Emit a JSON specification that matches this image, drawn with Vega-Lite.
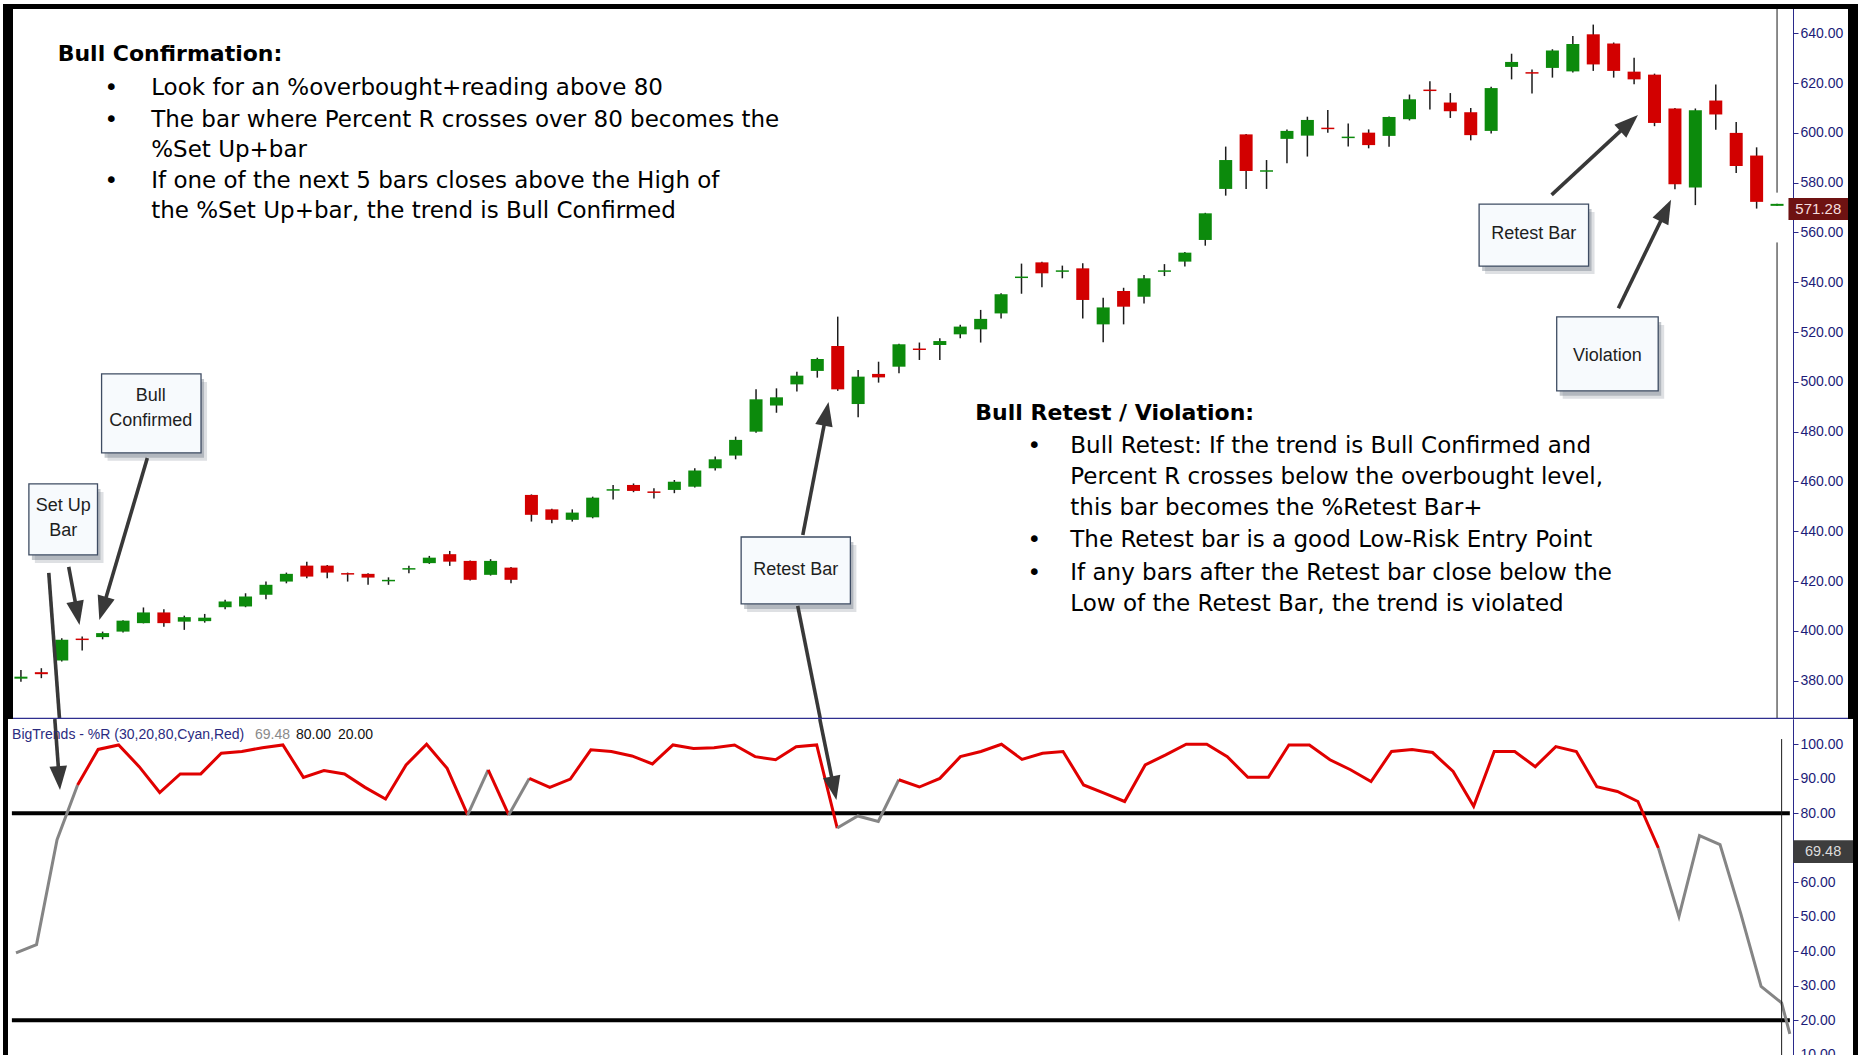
{
  "$schema": "https://vega.github.io/schema/vega-lite/v6.json",
  "background": "white",
  "padding": {"left": 3, "top": 4, "right": 0, "bottom": 0},
  "spacing": 0,
  "config": {"view": {"stroke": null}, "axis": {"grid": false}},
  "datasets": {
    "candles": [
      {"i":0,"o":380.8,"h":384.3,"l":379.6,"c":381.6},
      {"i":1,"o":383.4,"h":385.0,"l":381.0,"c":382.6},
      {"i":2,"o":388.1,"h":397.0,"l":387.7,"c":396.4},
      {"i":3,"o":396.9,"h":397.7,"l":392.1,"c":396.3},
      {"i":4,"o":397.5,"h":399.7,"l":396.6,"c":399.1},
      {"i":5,"o":399.7,"h":404.3,"l":399.3,"c":404.1},
      {"i":6,"o":403.1,"h":409.4,"l":403.0,"c":407.4},
      {"i":7,"o":407.4,"h":408.7,"l":401.7,"c":403.1},
      {"i":8,"o":403.7,"h":406.1,"l":400.4,"c":405.5},
      {"i":9,"o":403.9,"h":406.8,"l":403.3,"c":405.3},
      {"i":10,"o":409.5,"h":412.5,"l":408.7,"c":411.8},
      {"i":11,"o":409.8,"h":415.1,"l":409.5,"c":413.8},
      {"i":12,"o":414.5,"h":419.8,"l":412.7,"c":418.5},
      {"i":13,"o":419.8,"h":423.4,"l":419.1,"c":422.9},
      {"i":14,"o":426.2,"h":427.8,"l":421.1,"c":421.8},
      {"i":15,"o":426.2,"h":426.5,"l":421.1,"c":423.4},
      {"i":16,"o":423.2,"h":423.4,"l":419.8,"c":422.6},
      {"i":17,"o":422.9,"h":423.1,"l":418.5,"c":421.4},
      {"i":18,"o":419.9,"h":421.5,"l":418.5,"c":420.5},
      {"i":19,"o":424.6,"h":426.2,"l":423.1,"c":425.2},
      {"i":20,"o":427.2,"h":430.1,"l":426.9,"c":429.4},
      {"i":21,"o":430.8,"h":432.1,"l":426.1,"c":427.8},
      {"i":22,"o":428.1,"h":428.3,"l":420.2,"c":420.5},
      {"i":23,"o":422.5,"h":428.8,"l":422.2,"c":428.1},
      {"i":24,"o":425.4,"h":425.6,"l":419.1,"c":420.5},
      {"i":25,"o":454.6,"h":454.8,"l":443.9,"c":446.6},
      {"i":26,"o":448.8,"h":449.0,"l":443.2,"c":444.6},
      {"i":27,"o":444.6,"h":448.8,"l":443.9,"c":447.5},
      {"i":28,"o":445.6,"h":453.9,"l":445.2,"c":453.5},
      {"i":29,"o":456.3,"h":458.6,"l":452.8,"c":456.9},
      {"i":30,"o":458.6,"h":459.2,"l":455.7,"c":456.2},
      {"i":31,"o":456.0,"h":457.3,"l":453.2,"c":455.4},
      {"i":32,"o":456.6,"h":460.6,"l":455.3,"c":459.9},
      {"i":33,"o":457.9,"h":465.3,"l":457.6,"c":464.4},
      {"i":34,"o":465.3,"h":470.0,"l":464.4,"c":468.9},
      {"i":35,"o":470.4,"h":478.0,"l":468.9,"c":476.7},
      {"i":36,"o":480.0,"h":497.0,"l":479.6,"c":493.0},
      {"i":37,"o":490.5,"h":497.4,"l":487.6,"c":493.8},
      {"i":38,"o":499.0,"h":504.1,"l":496.1,"c":502.5},
      {"i":39,"o":504.4,"h":509.7,"l":501.7,"c":509.2},
      {"i":40,"o":514.4,"h":526.2,"l":496.4,"c":497.0},
      {"i":41,"o":491.1,"h":504.8,"l":485.8,"c":502.1},
      {"i":42,"o":503.2,"h":508.1,"l":499.7,"c":501.8},
      {"i":43,"o":506.1,"h":515.3,"l":503.5,"c":515.1},
      {"i":44,"o":513.4,"h":515.8,"l":508.8,"c":512.8},
      {"i":45,"o":514.8,"h":517.5,"l":508.8,"c":516.4},
      {"i":46,"o":519.1,"h":522.9,"l":517.5,"c":522.2},
      {"i":47,"o":521.1,"h":528.9,"l":515.8,"c":525.3},
      {"i":48,"o":527.5,"h":535.6,"l":525.5,"c":535.2},
      {"i":49,"o":541.7,"h":547.5,"l":535.4,"c":542.3},
      {"i":50,"o":548.0,"h":548.2,"l":538.0,"c":543.6},
      {"i":51,"o":544.2,"h":546.7,"l":541.6,"c":544.8},
      {"i":52,"o":545.6,"h":547.6,"l":525.5,"c":532.9},
      {"i":53,"o":523.1,"h":533.8,"l":515.9,"c":529.9},
      {"i":54,"o":536.5,"h":537.8,"l":523.1,"c":530.2},
      {"i":55,"o":534.2,"h":542.9,"l":531.5,"c":541.6},
      {"i":56,"o":544.2,"h":547.3,"l":542.5,"c":544.8},
      {"i":57,"o":548.3,"h":552.2,"l":546.3,"c":551.9},
      {"i":58,"o":557.0,"h":567.9,"l":554.7,"c":567.7},
      {"i":59,"o":577.5,"h":594.5,"l":574.8,"c":589.1},
      {"i":60,"o":599.4,"h":599.6,"l":577.5,"c":584.7},
      {"i":61,"o":584.4,"h":589.1,"l":577.5,"c":585.0},
      {"i":62,"o":597.6,"h":601.4,"l":587.8,"c":600.8},
      {"i":63,"o":598.9,"h":606.5,"l":590.5,"c":605.2},
      {"i":64,"o":602.1,"h":609.2,"l":600.1,"c":601.5},
      {"i":65,"o":597.9,"h":603.8,"l":594.5,"c":598.5},
      {"i":66,"o":600.1,"h":601.4,"l":593.8,"c":595.1},
      {"i":67,"o":598.8,"h":606.6,"l":594.4,"c":606.4},
      {"i":68,"o":605.5,"h":615.4,"l":605.0,"c":613.5},
      {"i":69,"o":617.4,"h":620.7,"l":609.4,"c":616.8},
      {"i":70,"o":612.2,"h":616.0,"l":606.0,"c":608.7},
      {"i":71,"o":608.3,"h":610.0,"l":597.0,"c":599.1},
      {"i":72,"o":600.8,"h":618.5,"l":599.8,"c":618.0},
      {"i":73,"o":626.5,"h":631.8,"l":621.5,"c":628.5},
      {"i":74,"o":624.4,"h":625.5,"l":615.8,"c":623.8},
      {"i":75,"o":626.1,"h":633.6,"l":622.2,"c":633.1},
      {"i":76,"o":624.7,"h":638.9,"l":624.3,"c":635.7},
      {"i":77,"o":639.6,"h":643.5,"l":624.9,"c":627.5},
      {"i":78,"o":635.9,"h":636.3,"l":622.2,"c":624.9},
      {"i":79,"o":624.6,"h":630.2,"l":619.5,"c":621.5},
      {"i":80,"o":623.4,"h":623.8,"l":602.7,"c":604.0},
      {"i":81,"o":609.8,"h":610.0,"l":577.4,"c":579.4},
      {"i":82,"o":578.1,"h":609.8,"l":571.0,"c":609.1},
      {"i":83,"o":613.0,"h":619.4,"l":601.3,"c":607.4},
      {"i":84,"o":600.0,"h":604.4,"l":583.9,"c":586.7},
      {"i":85,"o":590.9,"h":594.2,"l":569.6,"c":572.3},
      {"i":86,"o":570.7,"h":571.5,"l":570.7,"c":571.5}
    ],
    "pctr": [
      {"i":0,"v":39.5,"s":"s1","st":"neutral"},{"i":1,"v":41.9,"s":"s1","st":"neutral"},{"i":2,"v":72.3,"s":"s1","st":"neutral"},{"i":3,"v":88.2,"s":"s1","st":"neutral"},
      {"i":3,"v":88.2,"s":"s2","st":"bull"},{"i":4,"v":98.5,"s":"s2","st":"bull"},{"i":5,"v":99.8,"s":"s2","st":"bull"},{"i":6,"v":93.5,"s":"s2","st":"bull"},{"i":7,"v":86.0,"s":"s2","st":"bull"},{"i":8,"v":91.4,"s":"s2","st":"bull"},{"i":9,"v":91.4,"s":"s2","st":"bull"},{"i":10,"v":97.4,"s":"s2","st":"bull"},{"i":11,"v":97.9,"s":"s2","st":"bull"},{"i":12,"v":99.0,"s":"s2","st":"bull"},{"i":13,"v":99.8,"s":"s2","st":"bull"},{"i":14,"v":90.4,"s":"s2","st":"bull"},{"i":15,"v":92.4,"s":"s2","st":"bull"},{"i":16,"v":91.4,"s":"s2","st":"bull"},{"i":17,"v":87.5,"s":"s2","st":"bull"},{"i":18,"v":84.1,"s":"s2","st":"bull"},{"i":19,"v":94.0,"s":"s2","st":"bull"},{"i":20,"v":100,"s":"s2","st":"bull"},{"i":21,"v":93.0,"s":"s2","st":"bull"},{"i":22,"v":79.5,"s":"s2","st":"bull"},
      {"i":22,"v":79.5,"s":"s3","st":"neutral"},{"i":23,"v":92.6,"s":"s3","st":"neutral"},
      {"i":23,"v":92.6,"s":"s4","st":"bull"},{"i":24,"v":79.5,"s":"s4","st":"bull"},
      {"i":24,"v":79.5,"s":"s5","st":"neutral"},{"i":25,"v":90.1,"s":"s5","st":"neutral"},
      {"i":25,"v":90.1,"s":"s6","st":"bull"},{"i":26,"v":87.5,"s":"s6","st":"bull"},{"i":27,"v":89.9,"s":"s6","st":"bull"},{"i":28,"v":98.4,"s":"s6","st":"bull"},{"i":29,"v":97.9,"s":"s6","st":"bull"},{"i":30,"v":96.6,"s":"s6","st":"bull"},{"i":31,"v":94.3,"s":"s6","st":"bull"},{"i":32,"v":99.8,"s":"s6","st":"bull"},{"i":33,"v":98.8,"s":"s6","st":"bull"},{"i":34,"v":99.0,"s":"s6","st":"bull"},{"i":35,"v":99.8,"s":"s6","st":"bull"},{"i":36,"v":96.4,"s":"s6","st":"bull"},{"i":37,"v":95.5,"s":"s6","st":"bull"},{"i":38,"v":99.3,"s":"s6","st":"bull"},{"i":39,"v":99.8,"s":"s6","st":"bull"},{"i":40,"v":75.7,"s":"s6","st":"bull"},
      {"i":40,"v":75.7,"s":"s7","st":"neutral"},{"i":41,"v":79.2,"s":"s7","st":"neutral"},{"i":42,"v":77.6,"s":"s7","st":"neutral"},{"i":43,"v":89.7,"s":"s7","st":"neutral"},
      {"i":43,"v":89.7,"s":"s8","st":"bull"},{"i":44,"v":87.6,"s":"s8","st":"bull"},{"i":45,"v":90.1,"s":"s8","st":"bull"},{"i":46,"v":96.4,"s":"s8","st":"bull"},{"i":47,"v":97.9,"s":"s8","st":"bull"},{"i":48,"v":100,"s":"s8","st":"bull"},{"i":49,"v":95.6,"s":"s8","st":"bull"},{"i":50,"v":97.4,"s":"s8","st":"bull"},{"i":51,"v":97.9,"s":"s8","st":"bull"},{"i":52,"v":88.2,"s":"s8","st":"bull"},{"i":53,"v":85.8,"s":"s8","st":"bull"},{"i":54,"v":83.4,"s":"s8","st":"bull"},{"i":55,"v":94.0,"s":"s8","st":"bull"},{"i":56,"v":96.9,"s":"s8","st":"bull"},{"i":57,"v":100,"s":"s8","st":"bull"},{"i":58,"v":100,"s":"s8","st":"bull"},{"i":59,"v":96.4,"s":"s8","st":"bull"},{"i":60,"v":90.4,"s":"s8","st":"bull"},{"i":61,"v":90.4,"s":"s8","st":"bull"},{"i":62,"v":99.8,"s":"s8","st":"bull"},{"i":63,"v":99.8,"s":"s8","st":"bull"},{"i":64,"v":95.5,"s":"s8","st":"bull"},{"i":65,"v":92.6,"s":"s8","st":"bull"},{"i":66,"v":89.2,"s":"s8","st":"bull"},{"i":67,"v":97.9,"s":"s8","st":"bull"},{"i":68,"v":98.5,"s":"s8","st":"bull"},{"i":69,"v":97.6,"s":"s8","st":"bull"},{"i":70,"v":92.1,"s":"s8","st":"bull"},{"i":71,"v":82.0,"s":"s8","st":"bull"},{"i":72,"v":97.9,"s":"s8","st":"bull"},{"i":73,"v":97.9,"s":"s8","st":"bull"},{"i":74,"v":93.5,"s":"s8","st":"bull"},{"i":75,"v":99.3,"s":"s8","st":"bull"},{"i":76,"v":97.9,"s":"s8","st":"bull"},{"i":77,"v":87.7,"s":"s8","st":"bull"},{"i":78,"v":86.3,"s":"s8","st":"bull"},{"i":79,"v":83.4,"s":"s8","st":"bull"},{"i":80,"v":69.9,"s":"s8","st":"bull"},
      {"i":80,"v":69.9,"s":"s9","st":"neutral"},{"i":81,"v":50.1,"s":"s9","st":"neutral"},{"i":82,"v":73.5,"s":"s9","st":"neutral"},{"i":83,"v":70.9,"s":"s9","st":"neutral"},{"i":84,"v":51.1,"s":"s9","st":"neutral"},{"i":85,"v":29.8,"s":"s9","st":"neutral"},{"i":86,"v":25.0,"s":"s9","st":"neutral"},{"i":86.4,"v":16.0,"s":"s9","st":"neutral"}
    ],
    "levels": [{"lv": 80}, {"lv": 20}],
    "boxes": [
      {"x1": 0.39, "x2": 3.75, "y1": 459.0, "y2": 430.5},
      {"x1": 3.95, "x2": 8.82, "y1": 503.2, "y2": 471.5},
      {"x1": 35.27, "x2": 40.62, "y1": 437.7, "y2": 410.8},
      {"x1": 71.41, "x2": 76.77, "y1": 571.4, "y2": 546.5},
      {"x1": 75.21, "x2": 80.18, "y1": 526.1, "y2": 496.4}
    ],
    "boxtext": [
      {"x": 2.07, "y": 450.1, "t": "Set Up"},
      {"x": 2.07, "y": 440.2, "t": "Bar"},
      {"x": 6.36, "y": 494.4, "t": "Bull"},
      {"x": 6.36, "y": 484.4, "t": "Confirmed"},
      {"x": 37.94, "y": 424.5, "t": "Retest Bar"},
      {"x": 74.09, "y": 559.5, "t": "Retest Bar"},
      {"x": 77.69, "y": 510.5, "t": "Violation"}
    ],
    "arrows": [
      {"p": "top", "x1": 1.364, "y1": 423.3, "x2": 1.89, "y2": 364.6},
      {"p": "top", "x1": 2.34, "y1": 425.7, "x2": 2.78, "y2": 406.4},
      {"p": "top", "x1": 6.19, "y1": 469.4, "x2": 3.98, "y2": 408.2},
      {"p": "top", "x1": 38.29, "y1": 438.5, "x2": 39.46, "y2": 488.0},
      {"p": "top", "x1": 38.04, "y1": 410.0, "x2": 39.15, "y2": 364.6},
      {"p": "top", "x1": 74.96, "y1": 575.1, "x2": 78.83, "y2": 604.5},
      {"p": "top", "x1": 78.23, "y1": 529.6, "x2": 80.59, "y2": 569.4},
      {"p": "bot", "x1": 1.89, "y1": 107.32, "x2": 2.11, "y2": 89.6},
      {"p": "bot", "x1": 39.15, "y1": 107.32, "x2": 39.86, "y2": 86.66}
    ],
    "heads": [
      {"p": "top", "x": 2.87, "y": 402.4, "a": -10.7},
      {"p": "top", "x": 3.84, "y": 404.4, "a": 16.5},
      {"p": "top", "x": 39.55, "y": 491.9, "a": -168.9},
      {"p": "top", "x": 79.19, "y": 607.2, "a": -132.7},
      {"p": "top", "x": 80.81, "y": 573.1, "a": -153.8},
      {"p": "bot", "x": 2.143, "y": 86.7, "a": -4.2},
      {"p": "bot", "x": 39.96, "y": 83.8, "a": -11.4}
    ],
    "notes": [
      {"b": 1, "k": "head", "x": 1.80, "y": 629.0, "t": "Bull Confirmation:"},
      {"b": 1, "k": "bullet", "x": 4.43, "y": 615.2, "t": "•"},
      {"b": 1, "k": "bullet", "x": 4.43, "y": 602.5, "t": "•"},
      {"b": 1, "k": "bullet", "x": 4.43, "y": 577.7, "t": "•"},
      {"b": 1, "k": "body", "x": 6.38, "y": 615.2, "t": "Look for an %overbought+reading above 80"},
      {"b": 1, "k": "body", "x": 6.38, "y": 602.5, "t": "The bar where Percent R crosses over 80 becomes the"},
      {"b": 1, "k": "body", "x": 6.38, "y": 590.4, "t": "%Set Up+bar"},
      {"b": 1, "k": "body", "x": 6.38, "y": 577.7, "t": "If one of the next 5 bars closes above the High of"},
      {"b": 1, "k": "body", "x": 6.38, "y": 565.7, "t": "the %Set Up+bar, the trend is Bull Confirmed"},
      {"b": 2, "k": "head", "x": 46.74, "y": 484.7, "t": "Bull Retest / Violation:"},
      {"b": 2, "k": "bullet", "x": 49.63, "y": 471.3, "t": "•"},
      {"b": 2, "k": "bullet", "x": 49.63, "y": 433.8, "t": "•"},
      {"b": 2, "k": "bullet", "x": 49.63, "y": 420.4, "t": "•"},
      {"b": 2, "k": "body", "x": 51.39, "y": 471.3, "t": "Bull Retest: If the trend is Bull Confirmed and"},
      {"b": 2, "k": "body", "x": 51.39, "y": 459.0, "t": "Percent R crosses below the overbought level,"},
      {"b": 2, "k": "body", "x": 51.39, "y": 446.5, "t": "this bar becomes the %Retest Bar+"},
      {"b": 2, "k": "body", "x": 51.39, "y": 433.8, "t": "The Retest bar is a good Low-Risk Entry Point"},
      {"b": 2, "k": "body", "x": 51.39, "y": 420.4, "t": "If any bars after the Retest bar close below the"},
      {"b": 2, "k": "body", "x": 51.39, "y": 408.1, "t": "Low of the Retest Bar, the trend is violated"}
    ],
    "legend": [
      {"x": -0.19, "k": "name", "t": "BigTrends - %R (30,20,80,Cyan,Red)"},
      {"x": 11.64, "k": "val", "t": "69.48"},
      {"x": 13.64, "k": "lvl", "t": "80.00"},
      {"x": 15.68, "k": "lvl", "t": "20.00"}
    ]
  },
  "vconcat": [
    {
      "width": 1855,
      "height": 715,
      "layer": [
        {
          "data": {"name": "candles"},
          "mark": {"type": "rule", "color": "#1c1c1c", "strokeWidth": 1.5, "clip": true},
          "encoding": {
            "x": {"field": "i", "type": "quantitative", "scale": {"domain": [-0.633, 89.72], "nice": false, "zero": false}, "axis": null},
            "y": {"field": "l", "type": "quantitative", "scale": {"domain": [364.6, 651.77], "nice": false, "zero": false},
              "axis": {"orient": "right", "offset": -65, "values": [380, 400, 420, 440, 460, 480, 500, 520, 540, 560, 580, 600, 620, 640], "format": ".2f", "title": null,
                "domainColor": "#2a2a8a", "domainWidth": 1, "tickColor": "#2a2a8a", "tickSize": 5, "labelColor": "#1c1c78", "labelFont": "Liberation Sans, Arial, sans-serif", "labelFontSize": 14, "labelPadding": 2, "labelOverlap": false, "grid": false}},
            "y2": {"field": "h"}
          }
        },
        {
          "data": {"name": "candles"},
          "mark": {"type": "bar", "size": 13, "clip": true},
          "encoding": {
            "x": {"field": "i", "type": "quantitative"},
            "y": {"field": "o", "type": "quantitative"},
            "y2": {"field": "c"},
            "color": {"condition": {"test": "datum.c >= datum.o", "value": "#0c8a0c"}, "value": "#d20000"}
          }
        },
        {
          "data": {"values": [{}]},
          "mark": {"type": "rule", "color": "#1a1a1a", "strokeWidth": 1, "clip": true},
          "encoding": {"x": {"datum": 86, "type": "quantitative"}, "y": {"datum": 651.77, "type": "quantitative"}, "y2": {"datum": 576}}
        },
        {
          "data": {"values": [{}]},
          "mark": {"type": "rule", "color": "#1a1a1a", "strokeWidth": 1, "clip": true},
          "encoding": {"x": {"datum": 86, "type": "quantitative"}, "y": {"datum": 556, "type": "quantitative"}, "y2": {"datum": 364.6}}
        },
        {
          "data": {"name": "boxes"},
          "mark": {"type": "rect", "fill": "#7d8591", "opacity": 0.25, "xOffset": 6, "x2Offset": 6, "yOffset": 8, "y2Offset": 8, "clip": true},
          "encoding": {"x": {"field": "x1", "type": "quantitative"}, "x2": {"field": "x2"}, "y": {"field": "y1", "type": "quantitative"}, "y2": {"field": "y2"}}
        },
        {
          "data": {"name": "boxes"},
          "mark": {"type": "rect", "fill": "#7d8591", "opacity": 0.45, "xOffset": 3, "x2Offset": 3, "yOffset": 5, "y2Offset": 5, "clip": true},
          "encoding": {"x": {"field": "x1", "type": "quantitative"}, "x2": {"field": "x2"}, "y": {"field": "y1", "type": "quantitative"}, "y2": {"field": "y2"}}
        },
        {
          "data": {"name": "boxes"},
          "mark": {"type": "rect", "fill": "#f7fafd", "stroke": "#3e4c63", "strokeWidth": 1.3, "clip": true},
          "encoding": {"x": {"field": "x1", "type": "quantitative"}, "x2": {"field": "x2"}, "y": {"field": "y1", "type": "quantitative"}, "y2": {"field": "y2"}}
        },
        {
          "data": {"name": "boxtext"},
          "mark": {"type": "text", "font": "Liberation Sans, Arial, sans-serif", "fontSize": 18, "color": "#1e1e1e", "align": "center", "baseline": "middle", "clip": true},
          "encoding": {"x": {"field": "x", "type": "quantitative"}, "y": {"field": "y", "type": "quantitative"}, "text": {"field": "t"}}
        },
        {
          "data": {"name": "arrows"},
          "transform": [{"filter": "datum.p == 'top'"}],
          "mark": {"type": "rule", "color": "#383838", "strokeWidth": 3.6, "clip": true},
          "encoding": {"x": {"field": "x1", "type": "quantitative"}, "x2": {"field": "x2"}, "y": {"field": "y1", "type": "quantitative"}, "y2": {"field": "y2"}}
        },
        {
          "data": {"name": "heads"},
          "transform": [{"filter": "datum.p == 'top'"}],
          "mark": {"type": "point", "shape": "M0,0L-0.55,-1.5L0.55,-1.5Z", "filled": true, "color": "#383838", "opacity": 1, "size": 1024, "clip": true},
          "encoding": {"x": {"field": "x", "type": "quantitative"}, "y": {"field": "y", "type": "quantitative"}, "angle": {"field": "a", "type": "quantitative", "scale": null}}
        },
        {
          "data": {"name": "notes"},
          "transform": [{"filter": "datum.k == 'head'"}],
          "mark": {"type": "text", "font": "DejaVu Sans, sans-serif", "fontWeight": "bold", "fontSize": 22, "color": "#000000", "align": "left", "baseline": "alphabetic", "clip": true},
          "encoding": {"x": {"field": "x", "type": "quantitative"}, "y": {"field": "y", "type": "quantitative"}, "text": {"field": "t"}}
        },
        {
          "data": {"name": "notes"},
          "transform": [{"filter": "datum.k == 'bullet'"}],
          "mark": {"type": "text", "font": "DejaVu Sans, sans-serif", "fontSize": 23, "color": "#000000", "align": "center", "baseline": "alphabetic", "clip": true},
          "encoding": {"x": {"field": "x", "type": "quantitative"}, "y": {"field": "y", "type": "quantitative"}, "text": {"field": "t"}}
        },
        {
          "data": {"name": "notes"},
          "transform": [{"filter": "datum.k == 'body'"}],
          "mark": {"type": "text", "font": "DejaVu Sans, sans-serif", "fontSize": 23, "color": "#000000", "align": "left", "baseline": "alphabetic", "clip": true},
          "encoding": {"x": {"field": "x", "type": "quantitative"}, "y": {"field": "y", "type": "quantitative"}, "text": {"field": "t"}}
        },
        {
          "data": {"values": [{}]},
          "mark": {"type": "rect", "color": "#6e1212", "clip": true},
          "encoding": {"x": {"datum": 86.56, "type": "quantitative"}, "x2": {"datum": 89.72}, "y": {"datum": 573.85, "type": "quantitative"}, "y2": {"datum": 565.0}}
        },
        {
          "data": {"values": [{}]},
          "mark": {"type": "text", "font": "Liberation Sans, Arial, sans-serif", "fontSize": 15, "color": "#f6dede", "align": "center", "baseline": "middle", "clip": true},
          "encoding": {"x": {"datum": 88.02, "type": "quantitative"}, "y": {"datum": 569.4, "type": "quantitative"}, "text": {"value": "571.28"}}
        },
        {
          "data": {"values": [{}]},
          "mark": {"type": "rule", "color": "#2e2e8e", "strokeWidth": 2.6, "clip": true},
          "encoding": {"y": {"datum": 364.6, "type": "quantitative"}}
        },
        {
          "data": {"values": [{}]},
          "mark": {"type": "rule", "color": "#000000", "strokeWidth": 10, "clip": true},
          "encoding": {"x": {"datum": -0.633, "type": "quantitative"}}
        },
        {
          "data": {"values": [{}]},
          "mark": {"type": "rule", "color": "#000000", "strokeWidth": 10, "clip": true},
          "encoding": {"x": {"datum": 89.72, "type": "quantitative"}}
        },
        {
          "data": {"values": [{}]},
          "mark": {"type": "rule", "color": "#000000", "strokeWidth": 10, "clip": true},
          "encoding": {"y": {"datum": 651.77, "type": "quantitative"}}
        }
      ]
    },
    {
      "width": 1855,
      "height": 336,
      "resolve": {"scale": {"color": "independent"}},
      "layer": [
        {
          "data": {"name": "levels"},
          "mark": {"type": "rule", "color": "#000000", "strokeWidth": 4, "clip": true},
          "encoding": {
            "x": {"datum": -0.2, "type": "quantitative", "scale": {"domain": [-0.633, 89.72], "nice": false, "zero": false}, "axis": null},
            "x2": {"datum": 86.4},
            "y": {"field": "lv", "type": "quantitative", "scale": {"domain": [9.9, 107.32], "nice": false, "zero": false},
              "axis": {"orient": "right", "offset": -65, "values": [10, 20, 30, 40, 50, 60, 80, 90, 100], "format": ".2f", "title": null,
                "domainColor": "#2a2a8a", "domainWidth": 1, "tickColor": "#2a2a8a", "tickSize": 5, "labelColor": "#1c1c78", "labelFont": "Liberation Sans, Arial, sans-serif", "labelFontSize": 14, "labelPadding": 2, "labelOverlap": false, "grid": false}}
          }
        },
        {
          "data": {"name": "pctr"},
          "mark": {"type": "line", "strokeWidth": 3, "clip": true},
          "encoding": {
            "x": {"field": "i", "type": "quantitative"},
            "y": {"field": "v", "type": "quantitative"},
            "detail": {"field": "s"},
            "color": {"field": "st", "type": "nominal", "scale": {"domain": ["bull", "neutral"], "range": ["#e00000", "#858585"]}, "legend": null}
          }
        },
        {
          "data": {"values": [{}]},
          "mark": {"type": "rule", "color": "#1a1a1a", "strokeWidth": 1, "clip": true},
          "encoding": {"x": {"datum": 86, "type": "quantitative"}, "y": {"datum": 101.5, "type": "quantitative"}, "y2": {"datum": 9.9}}
        },
        {
          "data": {"name": "arrows"},
          "transform": [{"filter": "datum.p == 'bot'"}],
          "mark": {"type": "rule", "color": "#383838", "strokeWidth": 3.6, "clip": true},
          "encoding": {"x": {"field": "x1", "type": "quantitative"}, "x2": {"field": "x2"}, "y": {"field": "y1", "type": "quantitative"}, "y2": {"field": "y2"}}
        },
        {
          "data": {"name": "heads"},
          "transform": [{"filter": "datum.p == 'bot'"}],
          "mark": {"type": "point", "shape": "M0,0L-0.55,-1.5L0.55,-1.5Z", "filled": true, "color": "#383838", "opacity": 1, "size": 1024, "clip": true},
          "encoding": {"x": {"field": "x", "type": "quantitative"}, "y": {"field": "y", "type": "quantitative"}, "angle": {"field": "a", "type": "quantitative", "scale": null}}
        },
        {
          "data": {"name": "legend"},
          "mark": {"type": "text", "font": "Liberation Sans, Arial, sans-serif", "fontSize": 14, "align": "left", "baseline": "alphabetic", "clip": true},
          "encoding": {
            "x": {"field": "x", "type": "quantitative"},
            "y": {"datum": 101.4, "type": "quantitative"},
            "text": {"field": "t"},
            "color": {"field": "k", "type": "nominal", "scale": {"domain": ["name", "val", "lvl"], "range": ["#2b2b80", "#8a8a8a", "#111111"]}, "legend": null}
          }
        },
        {
          "data": {"values": [{}]},
          "mark": {"type": "rect", "color": "#3d3d3d", "clip": true},
          "encoding": {"x": {"datum": 86.56, "type": "quantitative"}, "x2": {"datum": 89.72}, "y": {"datum": 72.2, "type": "quantitative"}, "y2": {"datum": 65.6}}
        },
        {
          "data": {"values": [{}]},
          "mark": {"type": "text", "font": "Liberation Sans, Arial, sans-serif", "fontSize": 14.5, "color": "#dcdcdc", "align": "center", "baseline": "middle", "clip": true},
          "encoding": {"x": {"datum": 88.02, "type": "quantitative"}, "y": {"datum": 68.9, "type": "quantitative"}, "text": {"value": "69.48"}}
        },
        {
          "data": {"values": [{}]},
          "mark": {"type": "rule", "color": "#000000", "strokeWidth": 10, "clip": true},
          "encoding": {"x": {"datum": -0.633, "type": "quantitative"}}
        },
        {
          "data": {"values": [{}]},
          "mark": {"type": "rule", "color": "#000000", "strokeWidth": 10, "clip": true},
          "encoding": {"x": {"datum": 89.72, "type": "quantitative"}}
        }
      ]
    }
  ]
}
